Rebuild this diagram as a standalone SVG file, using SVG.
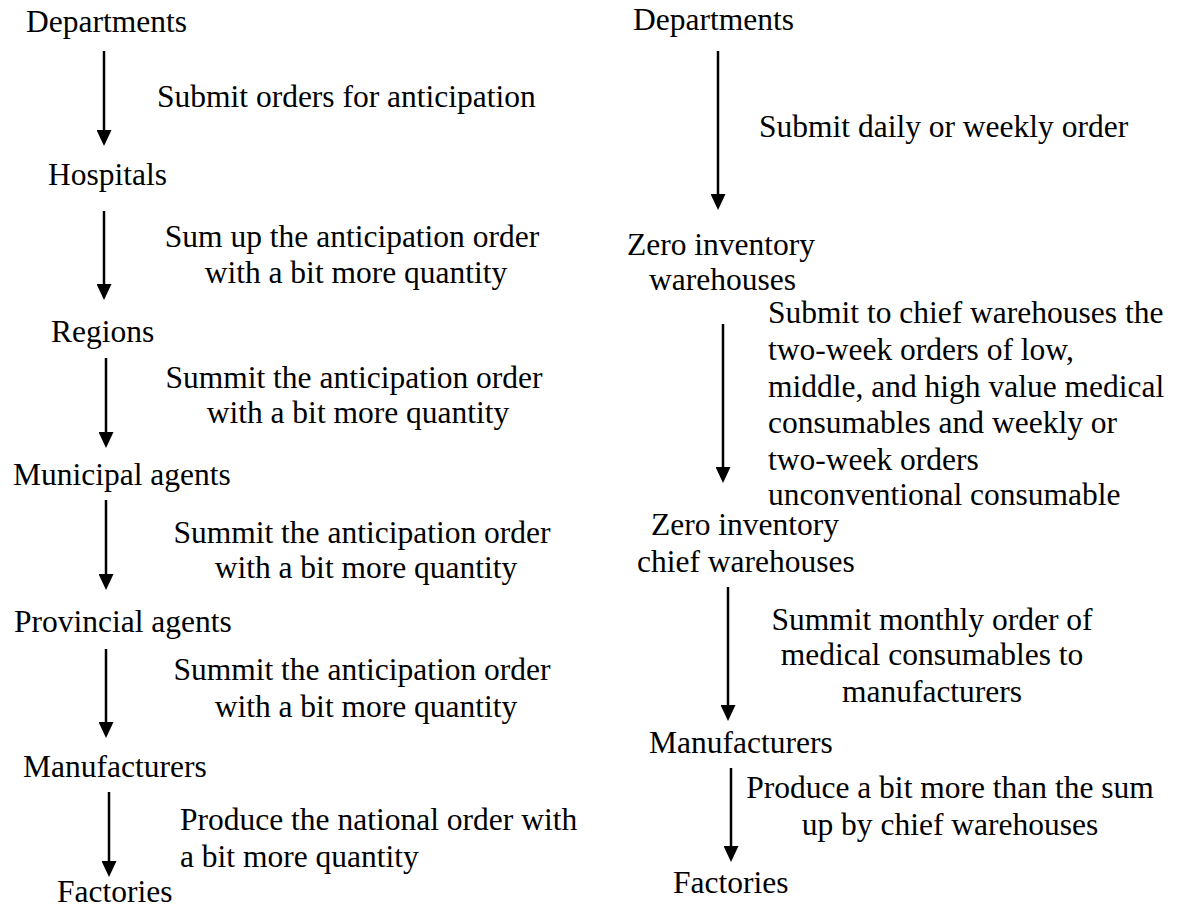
<svg xmlns="http://www.w3.org/2000/svg" width="1179" height="914" viewBox="0 0 1179 914">
  <style>
    text { font-family: "Liberation Serif", "Times New Roman", serif; font-size: 31.5px; fill: #000; }
    .mid { text-anchor: middle; }
    .conn line { stroke: #000; stroke-width: 2.5; marker-end: url(#head); }
  </style>
  <defs>
    <marker id="head" markerUnits="userSpaceOnUse" markerWidth="16" markerHeight="15" refX="0" refY="7.5" orient="auto">
      <path d="M0,0 L16,7.5 L0,15 z" fill="#000"/>
    </marker>
  </defs>
  <rect width="1179" height="914" fill="#fff"/>

  <!-- connectors -->
  <g id="connectors" class="conn">
    <line x1="104" y1="51" x2="104" y2="130"/>
    <line x1="104" y1="211" x2="104" y2="284"/>
    <line x1="106" y1="358" x2="106" y2="432"/>
    <line x1="106" y1="500" x2="106" y2="574"/>
    <line x1="106" y1="649" x2="106" y2="722"/>
    <line x1="109" y1="792" x2="109" y2="861"/>
    <line x1="718" y1="51" x2="718" y2="194"/>
    <line x1="723" y1="324" x2="723" y2="467"/>
    <line x1="728" y1="587" x2="728" y2="705"/>
    <line x1="731" y1="768" x2="731" y2="846"/>
  </g>

  <!-- connector labels -->
  <g id="edge-labels">
    <text x="157" y="107">Submit orders for anticipation</text>
    <text class="mid" x="352" y="247">Sum up the anticipation order</text>
    <text class="mid" x="356" y="283">with a bit more quantity</text>
    <text class="mid" x="354" y="388">Summit the anticipation order</text>
    <text class="mid" x="358" y="423">with a bit more quantity</text>
    <text class="mid" x="362" y="543">Summit the anticipation order</text>
    <text class="mid" x="366" y="578">with a bit more quantity</text>
    <text class="mid" x="362" y="680">Summit the anticipation order</text>
    <text class="mid" x="366" y="717">with a bit more quantity</text>
    <text x="180" y="830">Produce the national order with</text>
    <text x="180" y="867">a bit more quantity</text>

    <text x="759" y="137">Submit daily or weekly order</text>
    <text x="768" y="323">Submit to chief warehouses the</text>
    <text x="768" y="360">two-week orders of low,</text>
    <text x="768" y="397">middle, and high value medical</text>
    <text x="768" y="433">consumables and weekly or</text>
    <text x="768" y="470">two-week orders</text>
    <text x="768" y="505">unconventional consumable</text>
    <text class="mid" x="932" y="630">Summit monthly order of</text>
    <text class="mid" x="932" y="665">medical consumables to</text>
    <text class="mid" x="932" y="702">manufacturers</text>
    <text class="mid" x="950" y="798">Produce a bit more than the sum</text>
    <text class="mid" x="950" y="835">up by chief warehouses</text>
  </g>

  <!-- left chain -->
  <g id="l-departments"><text x="26" y="32">Departments</text></g>
  <g id="l-hospitals"><text x="48" y="185">Hospitals</text></g>
  <g id="l-regions"><text x="51" y="342">Regions</text></g>
  <g id="l-municipal"><text x="13" y="485">Municipal agents</text></g>
  <g id="l-provincial"><text x="14" y="632">Provincial agents</text></g>
  <g id="l-manufacturers"><text x="23" y="777">Manufacturers</text></g>
  <g id="l-factories"><text x="57" y="902">Factories</text></g>

  <!-- right chain -->
  <g id="r-departments"><text x="633" y="30">Departments</text></g>
  <g id="r-warehouses">
    <text x="627" y="255">Zero inventory</text>
    <text x="649" y="290">warehouses</text>
  </g>
  <g id="r-chief-warehouses">
    <text x="651" y="535">Zero inventory</text>
    <text x="637" y="572">chief warehouses</text>
  </g>
  <g id="r-manufacturers"><text x="649" y="753">Manufacturers</text></g>
  <g id="r-factories"><text x="673" y="893">Factories</text></g>
</svg>
